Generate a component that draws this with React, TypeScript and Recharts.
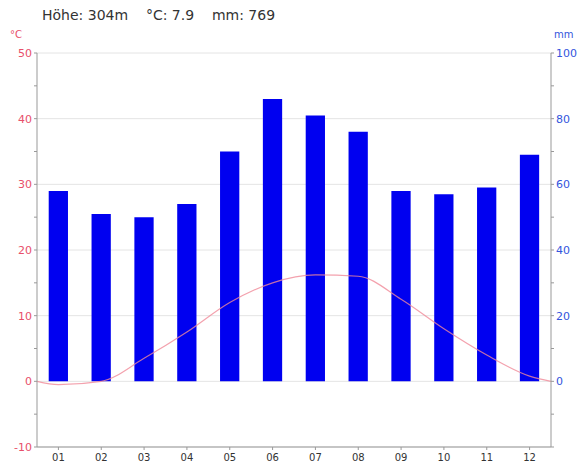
import {
  ComposedChart,
  Bar,
  Line,
  XAxis,
  YAxis,
  CartesianGrid,
} from "recharts";

// Monatswerte: Niederschlag (mm) und Temperatur (°C)
const months = [1, 2, 3, 4, 5, 6, 7, 8, 9, 10, 11, 12];
const precipitation = [58, 51, 50, 54, 70, 86, 81, 76, 58, 57, 59, 69];
const temperature = [-0.5, 0, 3.5, 7.5, 12, 15, 16.2, 16, 12.5, 8, 4, 0.8];

// Temperaturkurve reicht bis an die Ränder des Diagramms
const edgePositions = [0.5, 12.5];
const edgeTemperature = [0, 0];

const tempTicks = [-10, -5, 0, 5, 10, 15, 20, 25, 30, 35, 40, 45, 50];
const mmTicks = [-20, -10, 0, 10, 20, 30, 40, 50, 60, 70, 80, 90, 100];
const gridValues = [-10, 0, 10, 20, 30, 40, 50];

const header = "Höhe: 304m    °C: 7.9    mm: 769";

const FONT = "'DejaVu Sans', Verdana, sans-serif";

const data = [
  { m: edgePositions[0], temp: edgeTemperature[0] },
  ...months.map((m, i) => ({
    m,
    mm: precipitation[i],
    temp: temperature[i],
  })),
  { m: edgePositions[1], temp: edgeTemperature[1] },
];

export default function App() {
  return (
    <div
      style={{
        position: "absolute",
        left: 0,
        top: 0,
        width: 580,
        height: 464,
        background: "#fff",
        fontFamily: FONT,
      }}>
      <div
        style={{
          position: "absolute",
          left: 42,
          top: 7,
          fontSize: 14,
          color: "#333",
          whiteSpace: "pre",
        }}>
        {header}
      </div>
      <div
        style={{
          position: "absolute",
          left: 10,
          top: 29,
          fontSize: 10,
          color: "#e8506a",
        }}>
        °C
      </div>
      <div
        style={{
          position: "absolute",
          left: 554,
          top: 29,
          fontSize: 10,
          color: "#3355dd",
        }}>
        mm
      </div>
      <ComposedChart
        width={580}
        height={464}
        data={data}
        margin={{ top: 53, right: 0, bottom: 0, left: 0 }}>
        <CartesianGrid
          yAxisId="t"
          vertical={false}
          horizontalValues={gridValues}
          stroke="#e4e4e4"
        />
        <XAxis
          dataKey="m"
          type="number"
          domain={[0.5, 12.5]}
          ticks={months}
          tickFormatter={(v: number) => String(v).padStart(2, "0")}
          height={17}
          stroke="#999"
          tickSize={3}
          tick={{ fill: "#333", fontSize: 10, fontFamily: FONT }}
          dy={2}
        />
        <YAxis
          yAxisId="t"
          domain={[-10, 50]}
          ticks={tempTicks}
          tickFormatter={(v: number) => (v % 10 === 0 ? String(v) : "")}
          width={37}
          stroke="#999"
          tickSize={3}
          tick={{ fill: "#e8506a", fontSize: 11, fontFamily: FONT }}
        />
        <YAxis
          yAxisId="p"
          orientation="right"
          domain={[-20, 100]}
          ticks={mmTicks}
          tickFormatter={(v: number) =>
            v >= 0 && v % 20 === 0 ? String(v) : ""
          }
          width={29}
          stroke="#999"
          tickSize={3}
          tick={{ fill: "#3355dd", fontSize: 11, fontFamily: FONT }}
        />
        <Bar
          yAxisId="p"
          dataKey="mm"
          fill="#0000f0"
          barSize={23}
          isAnimationActive={false}
        />
        <Line
          yAxisId="t"
          dataKey="temp"
          type="monotone"
          stroke="#f08a98"
          strokeOpacity={0.8}
          strokeWidth={1.2}
          dot={false}
          isAnimationActive={false}
        />
      </ComposedChart>
    </div>
  );
}
